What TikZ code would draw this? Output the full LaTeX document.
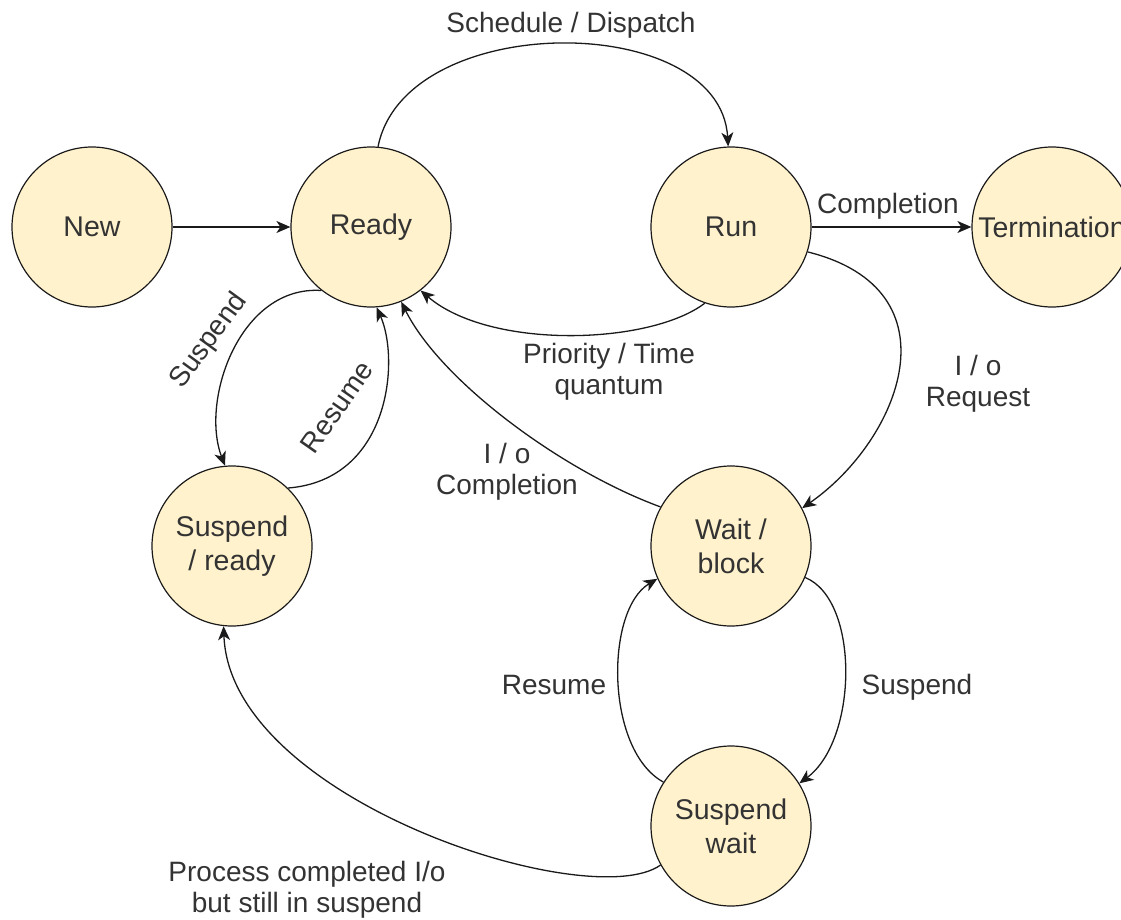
\documentclass[tikz,border=0pt]{standalone}
\usepackage{fontspec}
\setmainfont{Liberation Sans}
\usetikzlibrary{arrows.meta}
\definecolor{stfill}{HTML}{FFF2CC}
\definecolor{txt}{HTML}{333333}
\definecolor{ln}{HTML}{1A1A1A}
\tikzset{
  stnode/.style={circle, draw=ln, line width=1.2pt, fill=stfill, minimum size=160pt, inner sep=0pt,
    align=center, text=txt, font=\fontsize{28.5}{34}\selectfont},
  lbl/.style={align=center, text=txt, font=\fontsize{28}{31}\selectfont, inner sep=0pt},
  edge/.style={draw=ln, line width=1.3pt, -{Stealth[length=14pt,width=12pt,inset=4pt]}}
}
\begin{document}
\begin{tikzpicture}[x=1pt,y=-1pt]
\useasboundingbox (0,0) rectangle (1121,920);
\node[stnode] (new) at (92,227) {New};
\node[stnode] (ready) at (371,227) {Ready};
\node[stnode] (run) at (731,227) {Run};
\node[stnode] (term) at (1052,227) {Termination};
\node[stnode] (sready) at (232,546) {Suspend\\/ ready};
\node[stnode] (wait) at (731,546) {Wait /\\block};
\node[stnode] (swait) at (731,826) {Suspend\\wait};

\draw[edge] (new.east) -- (ready.west);
\draw[edge] (run.east) -- (term.west);
\draw[edge] (ready.85) .. controls (405,10) and (720,10) .. (run.92);
\draw[edge] (run.251) .. controls (650,345) and (490,350) .. (ready.308);
\draw[edge] (run.342) .. controls (960,290) and (900,440) .. (wait.28);
\draw[edge] (wait.151) .. controls (560,470) and (440,380) .. (ready.292);
\draw[edge] (ready.232) .. controls (240,285) and (200,400) .. (sready.95);
\draw[edge] (sready.46) .. controls (390,480) and (400,360) .. (ready.274);
\draw[edge] (wait.337) .. controls (860,600) and (858,740) .. (swait.32);
\draw[edge] (swait.147) .. controls (605,750) and (605,610) .. (wait.204);
\draw[edge] (swait.209) .. controls (590,915) and (230,800) .. (sready.264);

\node[lbl] (l1) at (571,25) {Schedule / Dispatch};
\node[lbl] (l2) at (888,206) {Completion};
\node[lbl] (l3) at (609,372) {Priority / Time\\quantum};
\node[lbl] (l4) at (978,384) {I / o\\Request};
\node[lbl] (l5) at (507,472) {I / o\\Completion};
\node[lbl, rotate=54] (l6) at (209,341) {Suspend};
\node[lbl, rotate=55] (l7) at (337,407) {Resume};
\node[lbl] (l8) at (917,687) {Suspend};
\node[lbl] (l9) at (554,685) {Resume};
\node[lbl] (l10) at (307,890) {Process completed I/o\\but still in suspend};
\end{tikzpicture}
\end{document}
